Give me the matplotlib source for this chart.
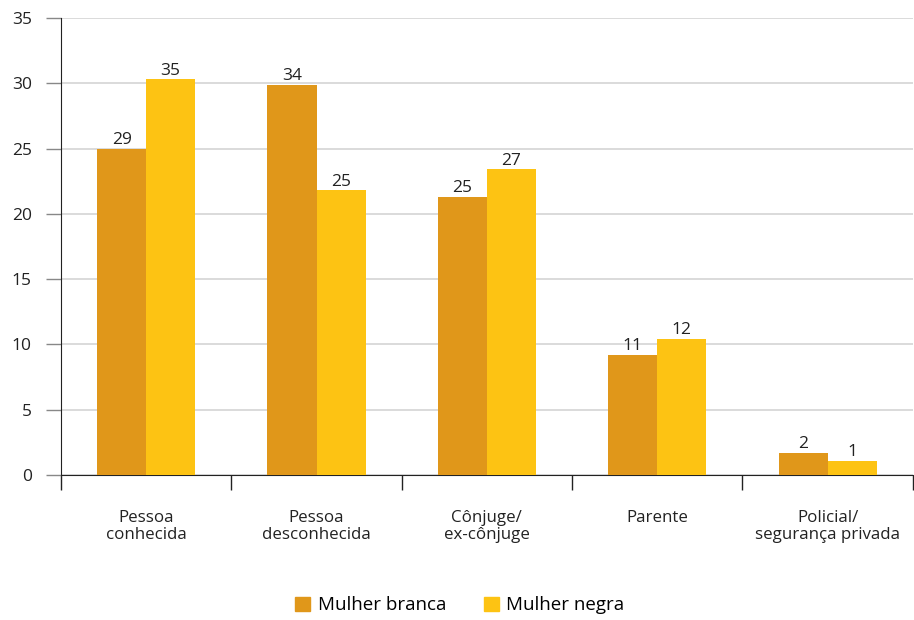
import numpy as np
import matplotlib
matplotlib.use("Agg")
import matplotlib.pyplot as plt
from matplotlib.patches import Patch

plt.rcParams['font.family'] = ['Open Sans', 'DejaVu Sans']

categorias = ["Pessoa\nconhecida", "Pessoa\ndesconhecida", "Cônjuge/\nex-cônjuge",
              "Parente", "Policial/\nsegurança privada"]
# alturas das barras (como desenhadas) e rótulos impressos
branca_altura = [25.0, 29.9, 21.3, 9.2, 1.7]
negra_altura = [30.3, 21.8, 23.4, 10.4, 1.1]
branca_rotulo = [29, 34, 25, 11, 2]
negra_rotulo = [35, 25, 27, 12, 1]

cor_branca = "#E0971A"
cor_negra = "#FDC313"

fig = plt.figure(figsize=(9.14, 6.2), dpi=100)
ax = fig.add_axes([0.0667, 0.234, 0.932, 0.737])

x = np.arange(len(categorias))
w = 0.288
b1 = ax.bar(x - w/2, branca_altura, w, color=cor_branca, zorder=3)
b2 = ax.bar(x + w/2, negra_altura, w, color=cor_negra, zorder=3)

for rect, lab in zip(b1, branca_rotulo):
    ax.text(rect.get_x() + rect.get_width()/2, rect.get_height() + 0.05, str(lab),
            ha='center', va='bottom', fontsize=12.5, color='#222222')
for rect, lab in zip(b2, negra_rotulo):
    ax.text(rect.get_x() + rect.get_width()/2, rect.get_height() + 0.05, str(lab),
            ha='center', va='bottom', fontsize=12.5, color='#222222')

ax.set_xlim(-0.5, len(categorias) - 0.5)
ax.set_ylim(0, 35)
ax.set_yticks(np.arange(0, 36, 5))
ax.yaxis.grid(True, color='#d8d8d8', linewidth=1.3, zorder=0)
ax.set_axisbelow(True)

ax.set_xticks(x)
ax.set_xticklabels(categorias, fontsize=12.2, color='#222222', linespacing=1.15)
ax.set_xticks(np.arange(-0.5, len(categorias)), minor=True)
ax.tick_params(axis='x', which='major', length=0, pad=25)
ax.tick_params(axis='x', which='minor', length=11, width=1, color='#222222', direction='out')
ax.tick_params(axis='y', length=11, width=1, color='#888888', pad=10, labelsize=12.5, labelcolor='#222222')

for s in ['top', 'right']:
    ax.spines[s].set_visible(False)
ax.spines['left'].set_color('#222222')
ax.spines['bottom'].set_color('#222222')

handles = [Patch(color=cor_branca, label='Mulher branca'),
           Patch(color=cor_negra, label='Mulher negra')]
fig.legend(handles=handles, loc='lower center', bbox_to_anchor=(0.503, -0.018), ncol=2,
           frameon=False, fontsize=13.5, handlelength=0.8, handleheight=0.8,
           handletextpad=0.4, columnspacing=2.0)

fig.savefig("out.png", dpi=100)
